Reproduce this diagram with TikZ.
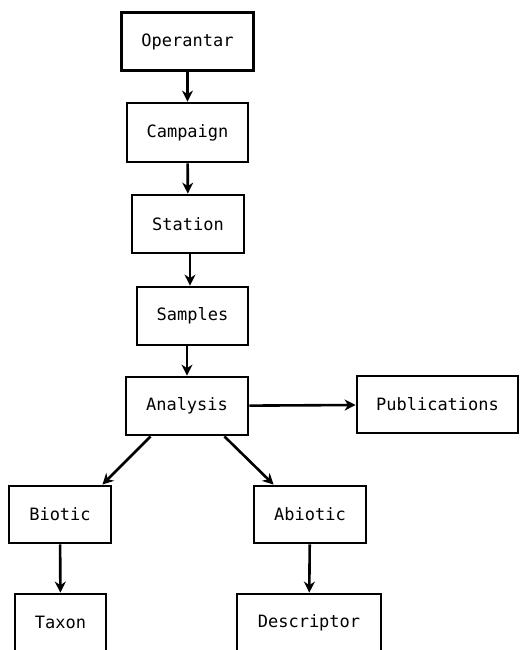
\documentclass[tikz,border=0pt]{standalone}
\usepackage{fontspec}
\setmonofont{DejaVu Sans Mono}
\usetikzlibrary{arrows.meta}
\begin{document}
\begin{tikzpicture}[x=1pt,y=-1pt,
        entity/.style={draw,line width=2.8pt,inner sep=0pt,font=\ttfamily\fontsize{17}{19}\selectfont},
        link/.style={-{Stealth[length=11pt,width=11pt,inset=3.5pt]},line width=2.6pt}]
        \useasboundingbox[fill=white] (0,0) rectangle (519,650);
        \node[entity,minimum width=132pt,minimum height=58pt] (operantar) at (187.5,41.5) {Operantar};
        \node[entity,minimum width=121pt,minimum height=59pt] (campaign) at (187.5,132.5) {Campaign};
        \node[entity,minimum width=112pt,minimum height=58pt] (station) at (188,224) {Station};
        \node[entity,minimum width=111pt,minimum height=58pt] (samples) at (192.5,316) {Samples};
        \node[entity,minimum width=122pt,minimum height=58pt] (analysis) at (187,406) {Analysis};
        \node[entity,minimum width=161pt,minimum height=57pt] (publications) at (437.5,404.5) {Publications};
        \node[entity,minimum width=102pt,minimum height=57pt] (biotic) at (60,514.5) {Biotic};
        \node[entity,minimum width=112pt,minimum height=57pt] (abiotic) at (310,514.5) {Abiotic};
        \node[entity,minimum width=91pt,minimum height=57pt] (taxon) at (60.5,622.5) {Taxon};
        \node[entity,minimum width=144pt,minimum height=57pt] (descriptor) at (309,622.5) {Descriptor};
        \draw[link] (operantar) -- (campaign);
        \draw[link] (campaign) -- (station);
        \draw[link] ([xshift=2pt]station.south) -- ([xshift=2pt]station.south |- samples.north);
        \draw[link] (samples.south -| analysis.north) -- (analysis.north);
        \draw[link] (analysis) -- (publications);
        \draw[link] ([xshift=26pt]analysis.south west) -- ([xshift=-10pt]biotic.north east);
        \draw[link] ([xshift=-25pt]analysis.south east) -- ([xshift=21pt]abiotic.north west);
        \draw[link] (biotic) -- (taxon);
        \draw[link] (abiotic) -- (descriptor);
    \end{tikzpicture}
\end{document}
